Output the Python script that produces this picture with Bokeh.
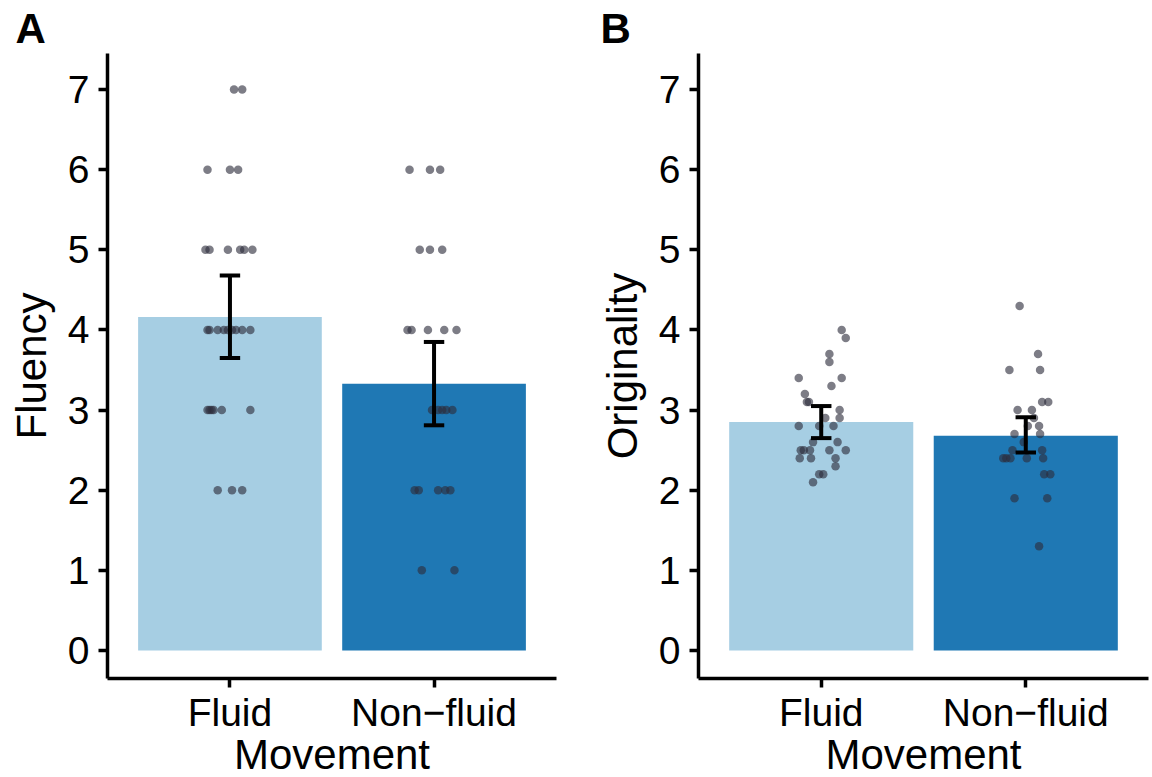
from bokeh.plotting import figure
from bokeh.layouts import row
from bokeh.models import FixedTicker, ColumnDataSource
from bokeh.embed import file_html
from bokeh.resources import INLINE

categories = ["Fluid", "Non\u2212fluid"]
bar_colors = ["#A6CEE3", "#1F78B4"]

# Panel A: Fluency
fluency_mean = [4.16, 3.33]
fluency_lo = [3.65, 2.81]
fluency_hi = [4.68, 3.85]
fluency_fluid_y = [7, 7, 6, 6, 6, 5, 5, 5, 5, 5, 5, 4, 4, 4, 4, 4, 4, 4, 4, 4,
                   3, 3, 3, 3, 3, 3, 2, 2, 2]
fluency_fluid_dx = [0.02, 0.06, -0.11, 0.00, 0.04, -0.12, -0.10, -0.01, 0.05, 0.07, 0.11,
                    -0.11, -0.10, -0.06, -0.03, -0.01, 0.01, 0.03, 0.06, 0.10,
                    -0.11, -0.10, -0.09, -0.08, -0.04, 0.10, -0.06, 0.01, 0.06]
fluency_non_y = [6, 6, 6, 5, 5, 5, 4, 4, 4, 4, 4, 3, 3, 3, 3, 3, 2, 2, 2, 2, 2, 1, 1]
fluency_non_dx = [-0.12, -0.02, 0.03, -0.07, -0.02, 0.04, -0.13, -0.11, -0.03, 0.05, 0.11,
                  -0.01, 0.02, 0.04, 0.06, 0.09, -0.095, -0.075, 0.02, 0.055, 0.08, -0.06, 0.10]

# Panel B: Originality
orig_mean = [2.85, 2.68]
orig_lo = [2.65, 2.47]
orig_hi = [3.05, 2.91]
orig_fluid_y = [4.0, 3.9, 3.7, 3.6, 3.4, 3.4, 3.3, 3.2, 3.1, 3.1, 3.0, 2.9, 2.9, 2.8, 2.8, 2.8,
                2.6, 2.6, 2.5, 2.5, 2.5, 2.5, 2.5, 2.4, 2.4, 2.4, 2.3, 2.2, 2.2, 2.1]
orig_fluid_dx = [0.10, 0.12, 0.04, 0.04, -0.11, 0.10, 0.05, -0.08, -0.07, -0.06, 0.09, 0.02, 0.09,
                 -0.11, -0.01, 0.06, -0.04, 0.08, -0.10, -0.085, -0.055, 0.04, 0.12,
                 -0.105, -0.05, 0.07, 0.07, -0.01, 0.01, -0.04]
orig_non_y = [4.3, 3.7, 3.5, 3.5, 3.1, 3.1, 3.0, 3.0, 2.9, 2.8, 2.8, 2.7, 2.7, 2.6, 2.5, 2.5,
              2.4, 2.4, 2.4, 2.4, 2.4, 2.2, 2.2, 1.9, 1.9, 1.3]
orig_non_dx = [-0.03, 0.06, -0.08, 0.07, 0.08, 0.11, -0.04, 0.03, 0.04, 0.01, 0.065, -0.055, 0.07,
               -0.01, -0.065, 0.08, -0.11, -0.095, -0.075, 0.005, 0.085, 0.09, 0.12, -0.055, 0.105, 0.065]

y_ticks = [0, 1, 2, 3, 4, 5, 6, 7]
FONT = "Liberation Sans"


def panel(letter, ylabel, means, lo, hi, fy, fdx, ny, ndx, border_left, border_right, fw, title_offset):
    p = figure(frame_width=fw, frame_height=625, x_range=(0.4, 2.6), y_range=(-0.35, 7.45),
               output_backend="svg", toolbar_location=None,
               min_border_left=border_left, min_border_right=border_right,
               min_border_top=53, min_border_bottom=91)
    p.outline_line_color = None
    p.xgrid.visible = False
    p.ygrid.visible = False
    xs = [1, 2]
    src = ColumnDataSource(dict(x=xs, top=means, color=bar_colors))
    p.vbar(x="x", top="top", bottom=0, width=0.9, color="color", source=src, line_color=None)
    px = [1 + d for d in fdx] + [2 + d for d in ndx]
    py = list(fy) + list(ny)
    p.scatter(px, py, size=8.5, fill_color="#2d2d3c", fill_alpha=0.62, line_color=None)
    p.segment(x0=xs, y0=lo, x1=xs, y1=hi, line_color="black", line_width=4)
    p.segment(x0=[x - 0.05 for x in xs], y0=lo, x1=[x + 0.05 for x in xs], y1=lo,
              line_color="black", line_width=4)
    p.segment(x0=[x - 0.05 for x in xs], y0=hi, x1=[x + 0.05 for x in xs], y1=hi,
              line_color="black", line_width=4)

    for ax in (p.xaxis[0], p.yaxis[0]):
        ax.axis_line_width = 3.5
        ax.axis_line_color = "black"
        ax.major_tick_line_width = 3.5
        ax.major_tick_line_color = "black"
        ax.major_tick_out = 9
        ax.major_tick_in = 0
        ax.minor_tick_line_color = None
        ax.major_label_text_font = FONT
        ax.major_label_text_font_size = "39px"
        ax.major_label_text_color = "black"
        ax.axis_label_text_font = FONT
        ax.axis_label_text_font_size = "42px"
        ax.axis_label_text_font_style = "normal"
        ax.axis_label_text_color = "black"
    p.xaxis.ticker = FixedTicker(ticks=xs)
    p.xaxis.major_label_overrides = {1: categories[0], 2: categories[1]}
    p.xaxis.axis_label = "Movement"
    p.xaxis.major_label_standoff = 3
    p.xaxis.axis_label_standoff = -6
    p.yaxis.ticker = FixedTicker(ticks=y_ticks)
    p.yaxis.axis_label = ylabel
    p.yaxis.major_label_standoff = 9
    p.yaxis.axis_label_standoff = 10

    p.title.text = letter
    p.title.align = "left"
    p.title.offset = title_offset
    p.title.text_font = FONT
    p.title.text_font_size = "42px"
    p.title.text_font_style = "bold"
    p.title.text_color = "black"
    p.title.standoff = 4
    return p


pa = panel("A", "Fluency", fluency_mean, fluency_lo, fluency_hi,
           fluency_fluid_y, fluency_fluid_dx, fluency_non_y, fluency_non_dx, 107, 34, 449, -92)
pb = panel("B", "Originality", orig_mean, orig_lo, orig_hi,
           orig_fluid_y, orig_fluid_dx, orig_non_y, orig_non_dx, 108, 2, 450, -98)

layout = row(pa, pb)
open("out.html", "w").write(file_html(layout, INLINE))
